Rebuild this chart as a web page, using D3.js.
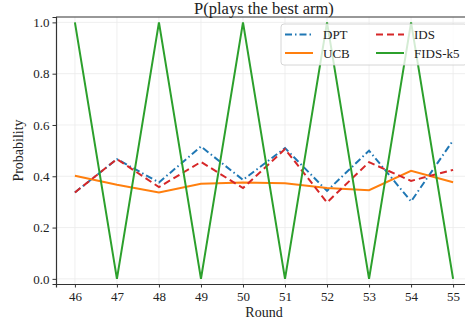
<!DOCTYPE html>
<html>
<head>
<meta charset="utf-8">
<script src="https://cdn.jsdelivr.net/npm/d3@7"></script>
<style>
  body { margin: 0; background: #fff; overflow: hidden; }
  svg text { font-family: "Liberation Serif", "DejaVu Serif", serif !important; fill: #222; }
</style>
</head>
<body>
<script>
// data
const rounds = [46, 47, 48, 49, 50, 51, 52, 53, 54, 55];
const dpt = [0.337, 0.467, 0.376, 0.516, 0.386, 0.51, 0.343, 0.50, 0.302, 0.54];
const ids = [0.337, 0.467, 0.358, 0.456, 0.354, 0.506, 0.298, 0.455, 0.382, 0.425];
const ucb = [0.402, 0.367, 0.337, 0.371, 0.376, 0.373, 0.354, 0.346, 0.421, 0.377];
const fids = [1, 0, 1, 0, 1, 0, 1, 0, 1, 0];
const yTicks = [0, 0.2, 0.4, 0.6, 0.8, 1.0];

const series = [
  { name: "DPT", values: dpt, color: "#1f77b4", dash: "7,3,1.5,3" },
  { name: "UCB", values: ucb, color: "#ff7f0e", dash: null },
  { name: "IDS", values: ids, color: "#d62728", dash: "7,4" },
  { name: "FIDS-k5", values: fids, color: "#2ca02c", dash: null }
];

const W = 465, H = 326;
const margin = { top: 17, right: -7, bottom: 42, left: 56 };
const w = W - margin.left - margin.right,
      h = H - margin.top - margin.bottom;

const svg = d3.select("body").append("svg")
    .attr("width", W)
    .attr("height", H);

const g = svg.append("g")
    .attr("transform", "translate(" + margin.left + "," + margin.top + ")");

const x = d3.scaleLinear()
    .domain([45.55, 55.45])
    .range([0, w]);

const y = d3.scaleLinear()
    .domain([-0.02, 1.021])
    .range([h, 0]);

// grid
g.append("g").selectAll("line")
    .data(rounds).join("line")
    .attr("x1", d => x(d)).attr("x2", d => x(d))
    .attr("y1", 0).attr("y2", h)
    .attr("stroke", "#ebebeb").attr("stroke-width", 0.8);
g.append("g").selectAll("line")
    .data(yTicks).join("line")
    .attr("x1", 0).attr("x2", w)
    .attr("y1", d => y(d)).attr("y2", d => y(d))
    .attr("stroke", "#ebebeb").attr("stroke-width", 0.8);

const line = d3.line()
    .x((d, i) => x(rounds[i]))
    .y(d => y(d));

series.forEach(s => {
  g.append("path")
      .datum(s.values)
      .attr("d", line)
      .attr("fill", "none")
      .attr("stroke", s.color)
      .attr("stroke-width", 2)
      .attr("stroke-dasharray", s.dash);
});

// axes
const xAxis = g.append("g")
    .attr("transform", "translate(0," + h + ")")
    .call(d3.axisBottom(x).tickValues(rounds).tickFormat(d3.format("d")).tickSizeOuter(0).tickSize(3.5).tickPadding(4));
const yAxis = g.append("g")
    .call(d3.axisLeft(y).tickValues(yTicks).tickFormat(d3.format(".1f")).tickSizeOuter(0).tickSize(3.5).tickPadding(3));

[xAxis, yAxis].forEach(a => {
  a.attr("font-family", null);
  a.select(".domain").attr("stroke", "#333").attr("stroke-width", 1.2);
  a.selectAll(".tick line").attr("stroke", "#333");
  a.selectAll(".tick text")
      .style("font-family", "'Liberation Serif', serif")
      .style("font-size", "13px")
      .attr("fill", "#222");
});

// top and right spines
g.append("line")
    .attr("x1", 0).attr("x2", w).attr("y1", 0).attr("y2", 0)
    .attr("stroke", "#333").attr("stroke-width", 1.2);
g.append("line")
    .attr("x1", w).attr("x2", w).attr("y1", 0).attr("y2", h)
    .attr("stroke", "#333").attr("stroke-width", 1.2);

// labels
svg.append("text")
    .attr("x", margin.left + w / 2).attr("y", 13.5)
    .attr("text-anchor", "middle").attr("font-size", 16.5)
    .text("P(plays the best arm)");
svg.append("text")
    .attr("x", margin.left + w / 2).attr("y", 317)
    .attr("text-anchor", "middle").attr("font-size", 14)
    .text("Round");
svg.append("text")
    .attr("transform", "translate(23," + (margin.top + h / 2) + ") rotate(-90)")
    .attr("text-anchor", "middle").attr("font-size", 14)
    .text("Probability");

// legend
const legend = svg.append("g").attr("transform", "translate(281,24)");
legend.append("rect")
    .attr("width", 186).attr("height", 41)
    .attr("rx", 3)
    .attr("fill", "#fff").attr("fill-opacity", 0.8)
    .attr("stroke", "#ccc").attr("stroke-width", 0.8);

const legendOrder = ["DPT", "IDS", "UCB", "FIDS-k5"];
legendOrder.forEach((name, i) => {
  const s = series.find(d => d.name === name);
  const col = i % 2, row = Math.floor(i / 2);
  const lx = 4 + col * 91, ly = 10.5 + row * 18.5;
  legend.append("line")
      .attr("x1", lx).attr("x2", lx + 28)
      .attr("y1", ly).attr("y2", ly)
      .attr("stroke", s.color).attr("stroke-width", 2)
      .attr("stroke-dasharray", s.dash);
  legend.append("text")
      .attr("x", lx + 38).attr("y", ly + 4.5)
      .attr("font-size", 13)
      .text(name);
});
</script>
</body>
</html>
